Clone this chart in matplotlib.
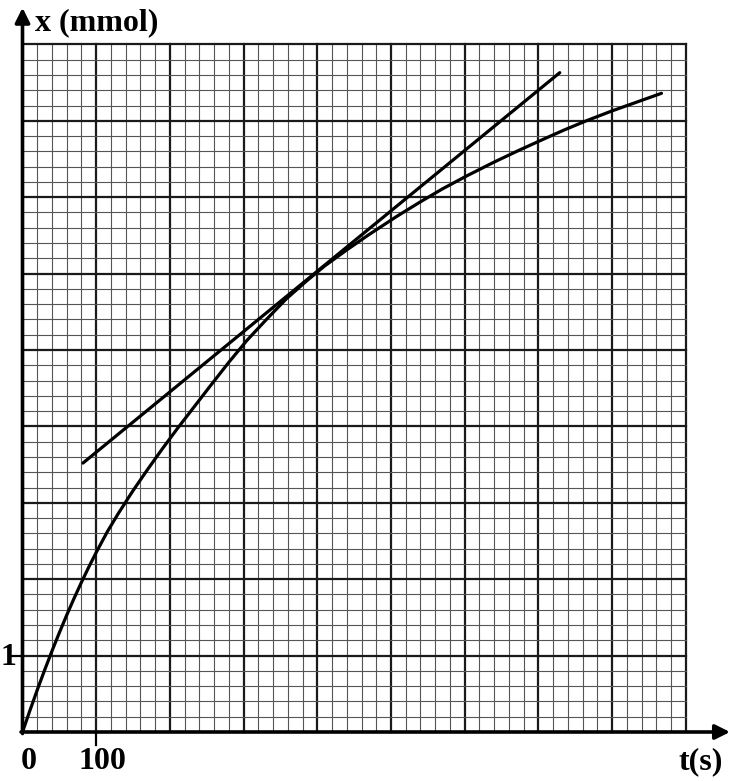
"""Graph-paper plot of x (mmol) vs t (s) with a tangent line."""

import matplotlib

matplotlib.use("Agg")
import matplotlib.pyplot as plt
import numpy as np

# Curve: time (s) and amount x (mmol).
t_curve = [0, 10, 20, 30, 40, 50, 60, 70, 80, 90, 100, 115, 130, 150, 170, 190,
           210, 230, 254, 280, 304, 330, 358, 385, 410, 440, 470, 508, 540, 570,
           603, 640, 675, 707, 735, 765, 800, 835, 867]
x_curve = [0, 0.28, 0.55, 0.81, 1.06, 1.30, 1.53, 1.75, 1.96, 2.16, 2.35, 2.62,
           2.86, 3.16, 3.44, 3.71, 3.97, 4.22, 4.52, 4.84, 5.12, 5.39, 5.67, 5.90,
           6.10, 6.31, 6.51, 6.75, 6.94, 7.11, 7.28, 7.46, 7.62, 7.76, 7.88, 8.00,
           8.13, 8.25, 8.36]

# Tangent line end points.
t_tangent = [82, 729]
x_tangent = [3.52, 8.63]

# Paper extent and grid steps.
T_MAX, X_MAX = 900, 9
T_MAJOR, T_MINOR = 100, 20
X_MINOR = 0.2

# Pixel scale of the paper: 100 s ~ 73.7 px, 1 mmol ~ 76.4 px.
W, H = 731, 781
PX_PER_S = 0.737
PX_PER_MMOL = 76.4
ORIGIN = (22.5, 732)  # pixel position of (0, 0), from top-left

LABEL_FONT = dict(family=["Liberation Serif", "DejaVu Serif"], fontweight="bold", fontsize=23)


def main():
    fig = plt.figure(figsize=(W / 100, H / 100), dpi=100)
    ax = fig.add_axes([0, 0, 1, 1])
    ax.axis("off")
    ox, oy = ORIGIN
    ax.set_xlim(-ox / PX_PER_S, (W - ox) / PX_PER_S)
    ax.set_ylim(-(H - oy) / PX_PER_MMOL, oy / PX_PER_MMOL)

    # Graph paper: thin minor lines, heavier major lines.
    for t in np.arange(T_MINOR, T_MAX + 1, T_MINOR):
        major = np.isclose(t % T_MAJOR, 0)
        ax.plot([t, t], [0, X_MAX], color="#1a1a1a" if major else "#555555",
                lw=1.6 if major else 0.8, zorder=1)
    for x in np.arange(X_MINOR, X_MAX + 0.01, X_MINOR):
        major = np.isclose(x, round(x))
        ax.plot([0, T_MAX], [x, x], color="#1a1a1a" if major else "#555555",
                lw=1.6 if major else 0.8, zorder=1)

    # Axes with arrows.
    arrow = dict(arrowstyle="-|>", lw=2.6, color="black", mutation_scale=22, shrinkA=0, shrinkB=0)
    ax.annotate("", xy=(0, 9.48), xytext=(0, -0.02), arrowprops=arrow, zorder=4)
    ax.annotate("", xy=(960, 0), xytext=(-2, 0), arrowprops=arrow, zorder=4)

    # Tick marks for the unit labels.
    ax.plot([-14, 0], [1, 1], color="black", lw=1.6)
    ax.plot([100, 100], [0, -0.17], color="black", lw=1.6)

    # Data.
    ax.plot(t_curve, x_curve, color="black", lw=2.3, solid_joinstyle="round",
            solid_capstyle="round", zorder=3)
    ax.plot(t_tangent, x_tangent, color="black", lw=2.3, solid_capstyle="round", zorder=3)

    # Labels.
    ax.text(17, 9.28, "x (mmol)", ha="left", va="center", **LABEL_FONT)
    ax.text(9, -0.39, "0", ha="center", va="center", **LABEL_FONT)
    ax.text(109, -0.39, "100", ha="center", va="center", **LABEL_FONT)
    ax.text(-29.5, 0.98, "1", ha="left", va="center", **LABEL_FONT)
    ax.text(920, -0.39, "t(s)", ha="center", va="center", **LABEL_FONT)

    fig.savefig("out.png", dpi=100)


if __name__ == "__main__":
    main()
